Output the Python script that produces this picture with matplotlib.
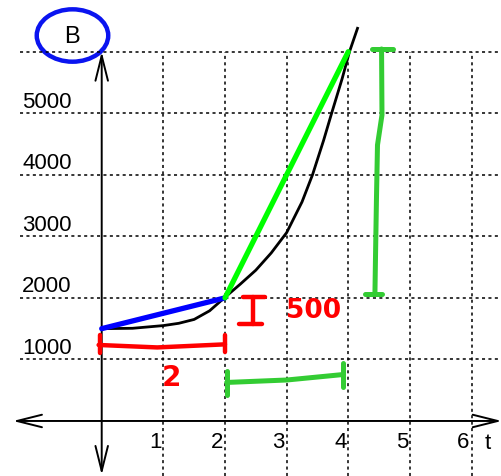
import matplotlib
matplotlib.use("Agg")
import matplotlib.pyplot as plt
from matplotlib.patches import Ellipse

plt.rcParams['font.family'] = ['Liberation Sans', 'DejaVu Sans']

# ---- data ----
x_ticks = [1, 2, 3, 4, 5, 6]
x_tick_labels = ["1", "2", "3", "4", "5", "6"]
y_ticks = [1000, 2000, 3000, 4000, 5000]
y_tick_labels = ["1000", "2000", "3000", "4000", "5000"]
y_grid = [1000, 2000, 3000, 4000, 5000, 6000]

curve_t = [0, 0.5, 1.0, 1.25, 1.5, 1.75, 2.0, 2.25, 2.5, 2.75, 3.0, 3.25, 3.42, 3.6, 3.73, 3.9, 4.02, 4.15]
curve_B = [1500, 1506, 1550, 1587, 1650, 1790, 2010, 2225, 2450, 2730, 3060, 3560, 4000, 4560, 5000, 5560, 6000, 6380]

blue_t = [0, 2]
blue_B = [1500, 2000]
green_t = [2, 4]
green_B = [2000, 6000]

x_label = "t"
y_label = "B"
run_label = "2"
rise_label = "500"

# ---- figure ----
fig = plt.figure(figsize=(5.02, 4.76), dpi=100)
ax = fig.add_axes([0, 0, 1, 1])
ax.set_xlim(-1.65, 6.494)
ax.set_ylim(-894, 6840)
ax.axis('off')

# grid
grid_kw = dict(color='black', lw=1.1, linestyles=(0, (2, 2.2)))
ax.vlines(x_ticks, -894, 6000, **grid_kw)
ax.hlines(y_grid, -1.33, 6.494, **grid_kw)

# axes with arrows
ax.annotate('', xy=(-1.44, 0), xytext=(6.49, 0),
            arrowprops=dict(arrowstyle='<->,head_length=1.8,head_width=0.45', lw=1.4,
                            color='black', shrinkA=0, shrinkB=0))
ax.annotate('', xy=(0, 6000), xytext=(0, -877),
            arrowprops=dict(arrowstyle='<->,head_length=1.8,head_width=0.45', lw=1.4,
                            color='black', shrinkA=0, shrinkB=0))

# tick labels
for v, lab in zip(y_ticks, y_tick_labels):
    ax.text(-0.89, v + 180, lab, ha='center', va='center', fontsize=16, color='black')
for t, lab in zip(x_ticks, x_tick_labels):
    ax.text(t - 0.13, -357, lab, ha='center', va='center', fontsize=16, color='black')
ax.text(6.258, -370, x_label, ha='center', va='center', fontsize=16, color='black')
ax.text(-0.487, 6231, y_label, ha='center', va='center', fontsize=17, color='black')

# blue circle round B
ax.add_patch(Ellipse((-0.474, 6263), 1.16, 851, fill=False, edgecolor='#0a14f0', lw=3.2))

# curve
ax.plot(curve_t, curve_B, color='black', lw=2.0, zorder=3)
# secant lines
ax.plot(blue_t, blue_B, color='#0000ff', lw=3.8, solid_capstyle='round', zorder=4)
ax.plot(green_t, green_B, color='#00ff00', lw=3.8, solid_capstyle='round', zorder=4)

# red annotations
red = '#ff0000'
rkw = dict(color=red, lw=3.2, solid_capstyle='round', zorder=5)
ax.plot([-0.05, 0.9, 2.0], [1235, 1195, 1245], **rkw)
ax.plot([-0.03, -0.03], [1100, 1400], **rkw)
ax.plot([2.0, 2.0], [1120, 1400], **rkw)
ax.text(1.135, 699, run_label, ha='center', va='center', fontsize=20, color=red,
        fontweight='bold', family=['DejaVu Sans'])
# vertical bracket "I"
ax.plot([2.45, 2.45], [1576, 2020], **rkw)
ax.plot([2.29, 2.65], [2020, 2020], **rkw)
ax.plot([2.22, 2.60], [1576, 1576], **rkw)
ax.text(3.43, 1787, rise_label, ha='center', va='center', fontsize=19, color=red,
        fontweight='bold', family=['DejaVu Sans'])

# green annotations
gc = '#33cc33'
gkw = dict(color=gc, lw=3.6, solid_capstyle='round', zorder=5)
ax.plot([4.54, 4.547, 4.474, 4.457, 4.441, 4.433], [6044, 4972, 4484, 3590, 2616, 2096], **gkw)
ax.plot([4.39, 4.73], [6050, 6050], **gkw)
ax.plot([4.27, 4.54], [2070, 2070], **gkw)
ax.plot([2.028, 3.006, 3.919], [626, 666, 755], **gkw)
ax.plot([2.03, 2.03], [422, 812], **gkw)
ax.plot([3.914, 3.914], [560, 935], **gkw)

fig.savefig("out.png", dpi=100)
